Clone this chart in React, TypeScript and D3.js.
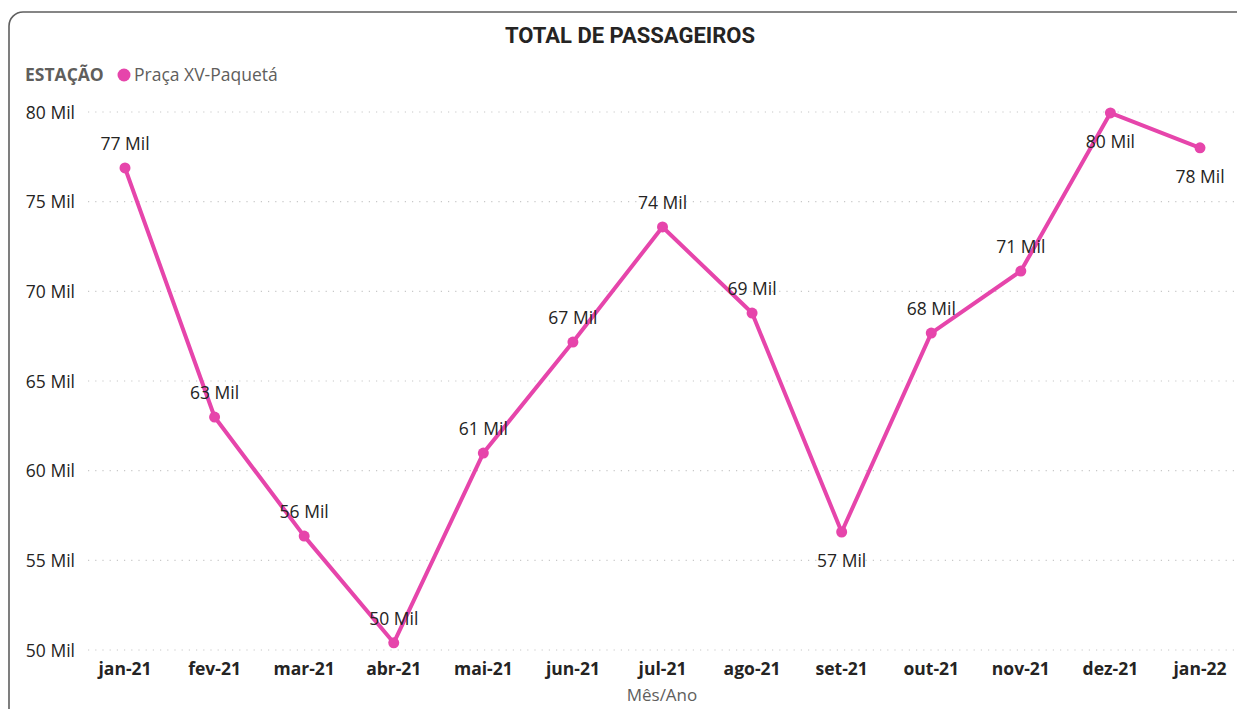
import React from 'react';
import * as d3 from 'd3';

const months = ['jan-21', 'fev-21', 'mar-21', 'abr-21', 'mai-21', 'jun-21', 'jul-21', 'ago-21', 'set-21', 'out-21', 'nov-21', 'dez-21', 'jan-22'];
const passengers = [76880, 62990, 56350, 50400, 60980, 67170, 73590, 68790, 56580, 67670, 71130, 79950, 78000];
// labels drawn below the point instead of above
const labelBelow = ['set-21', 'dez-21', 'jan-22'];
const yTicks = [50000, 55000, 60000, 65000, 70000, 75000, 80000];

const PINK = '#E645AB';
const FONT = '"Open Sans", "Noto Sans", sans-serif';

const App = () => {
  const width = 1237;
  const height = 709;

  const x = d3.scalePoint<string>()
    .domain(months)
    .range([125, 1200]);

  const y = d3.scaleLinear()
    .domain([50000, 80000])
    .range([650, 112]);

  const line = d3.line<number>()
    .x((d, i) => x(months[i]) as number)
    .y(d => y(d));

  const fmt = (v: number) => `${Math.round(v / 1000)} Mil`;

  return (
    <svg width={width} height={height} style={{ position: 'absolute', left: 0, top: 0, background: '#fff' }}>
      <rect x={9} y={12} width={1260} height={720} rx={14} fill="#fff" stroke="#5f5f5f" strokeWidth={1.6} />

      <text x={630} y={37} textAnchor="middle" dominantBaseline="middle" fontFamily="Roboto, sans-serif"
        fontWeight={700} fontSize={22} fill="#252423">TOTAL DE PASSAGEIROS</text>

      <text x={25} y={76} dominantBaseline="middle" fontFamily={FONT} fontWeight={700} fontSize={17.5} fill="#605e5c">ESTAÇÃO</text>
      <circle cx={124} cy={75} r={6.5} fill={PINK} />
      <text x={134} y={76} dominantBaseline="middle" fontFamily={FONT} fontSize={17.5} fill="#605e5c">Praça XV-Paquetá</text>

      {yTicks.map(t => (
        <g key={t}>
          <line x1={88} x2={1237} y1={y(t)} y2={y(t)} stroke="#c8c8c8" strokeWidth={1.2} strokeDasharray="1.2 6" />
          <text x={75} y={y(t) + 2} textAnchor="end" dominantBaseline="middle" fontFamily={FONT} fontSize={17.5} fill="#252423">{fmt(t)}</text>
        </g>
      ))}

      {months.map(m => (
        <text key={m} x={x(m)} y={670} textAnchor="middle" dominantBaseline="middle" fontFamily={FONT}
          fontWeight={700} fontSize={17.5} fill="#252423">{m}</text>
      ))}
      <text x={662} y={696} textAnchor="middle" dominantBaseline="middle" fontFamily={FONT} fontSize={17} fill="#605e5c">Mês/Ano</text>

      <path d={line(passengers) || ''} fill="none" stroke={PINK} strokeWidth={4} strokeLinejoin="round" />
      {passengers.map((v, i) => (
        <circle key={months[i]} cx={x(months[i])} cy={y(v)} r={5.5} fill={PINK} />
      ))}
      {passengers.map((v, i) => {
        const below = labelBelow.includes(months[i]);
        return (
          <text key={months[i]} x={x(months[i])} y={y(v) + (below ? 30 : -23)} textAnchor="middle" dominantBaseline="middle"
            fontFamily={FONT} fontSize={17.5} fill="#252423">{fmt(v)}</text>
        );
      })}
    </svg>
  );
};

export default App;
